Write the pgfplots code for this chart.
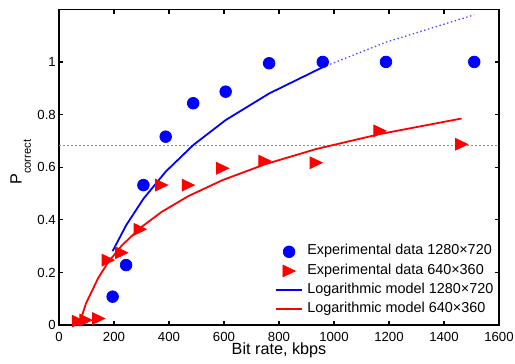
\documentclass[border=0pt]{standalone}
\usepackage{fontspec}
\setmainfont{Liberation Sans}
\usepackage{pgfplots}
\pgfplotsset{compat=1.18}
\pgfdeclareplotmark{rtri}{%
  \pgfpathmoveto{\pgfqpoint{1.05\pgfplotmarksize}{0pt}}%
  \pgfpathlineto{\pgfqpoint{-1.05\pgfplotmarksize}{1\pgfplotmarksize}}%
  \pgfpathlineto{\pgfqpoint{-1.05\pgfplotmarksize}{-1\pgfplotmarksize}}%
  \pgfpathclose\pgfusepathqfillstroke}
\definecolor{thr}{rgb}{1,0.35,0.35}
\begin{document}
\begin{tikzpicture}
\begin{axis}[
  name=ax,
  width=220pt, height=157.9pt, scale only axis,
  xmin=0, xmax=1600, ymin=0, ymax=1.2,
  xtick={0,200,400,600,800,1000,1200,1400,1600},
  ytick={0,0.2,0.4,0.6,0.8,1},
  tick align=inside, xtick pos=both, ytick pos=both,
  xticklabel pos=bottom, yticklabel pos=left,
  major tick length=2.2pt,
  axis line style={line width=0.7pt},
  tick style={line width=0.6pt, black},
  /pgf/number format/assume math mode=true,
  /pgf/number format/1000 sep={},
  ticklabel style={font=\fontsize{6.6}{7.5}\selectfont},
  xticklabel style={inner sep=0pt, anchor=north, yshift=-3.3pt},
  yticklabel style={inner sep=0pt, anchor=east, xshift=-1.4pt},
  xlabel={Bit rate, kbps},
  xlabel style={font=\fontsize{8.1}{9}\selectfont, at={(axis description cs:0.5,0)}, anchor=base, yshift=-14.65pt, inner sep=0pt},
  ylabel={{\fontsize{8.1}{9}\selectfont P}\raisebox{-4.6pt}{\fontsize{5.6}{6.5}\selectfont correct}},
  ylabel style={at={([xshift=-18.65pt]axis description cs:0,0.516)}, anchor=base, inner sep=0pt},
  clip=true,
  legend style={draw=none, fill=none, at={(axis cs:785,0.315)}, anchor=north west,
    inner sep=0pt, outer sep=0pt, row sep=0pt, column sep=2pt,
    font=\fontsize{7.2}{8.6}\selectfont,
    nodes={inner sep=0pt, text height=6.4pt, text depth=3.2pt}},
  legend cell align=left,
  legend image code/.code={\draw[mark repeat=2,mark phase=2,#1] plot coordinates {(0pt,0pt)(6.65pt,0pt)(13.3pt,0pt)};},
]
% threshold line
\addplot[forget plot, thr, line width=0.6pt, dash pattern=on 1.2pt off 0.8pt] coordinates {(0,0.682) (1600,0.682)};
% extrapolated blue model
\addplot[forget plot, blue!75, line width=0.6pt, dash pattern=on 0.7pt off 1.3pt] coordinates {(959,0.980) (1189,1.075) (1510,1.179)};
% experimental data
\addplot[only marks, mark=*, mark size=2.9pt, blue, mark options={fill=blue, draw=blue}] coordinates {
 (195,0.108) (244,0.228) (307,0.532) (388,0.716) (488,0.843) (606,0.887)
 (764,0.995) (959,1.0) (1189,1.0) (1510,1.0)};
\addlegendentry{Experimental data 1280×720}
\addplot[only marks, mark=rtri, mark size=2.9pt, red, mark options={fill=red, draw=red}] coordinates {
 (70,0.015) (98,0.019) (144,0.025) (179,0.247) (228,0.275) (295,0.364)
 (373,0.532) (470,0.532) (595,0.596) (749,0.623) (935,0.617) (1167,0.738) (1464,0.687)};
\addlegendentry{Experimental data 640×360}
% models
\addplot[blue, line width=0.9pt, no marks] coordinates {
 (195,0.281) (244,0.379) (307,0.480) (388,0.583) (488,0.684) (606,0.779) (764,0.880) (959,0.980)};
\addlegendentry{Logarithmic model 1280×720}
\addplot[red, line width=0.9pt, no marks] coordinates {
 (67,-0.017) (98,0.082) (143,0.180) (179,0.239) (228,0.302) (295,0.369) (373,0.430)
 (470,0.490) (595,0.551) (749,0.611) (935,0.669) (1167,0.726) (1464,0.785)};
\addlegendentry{Logarithmic model 640×360}
\end{axis}
\pgfresetboundingbox
\path[use as bounding box] ([xshift=-29.5pt,yshift=-19pt]ax.south west) rectangle ([xshift=8pt,yshift=4.65pt]ax.north east);
\end{tikzpicture}
\end{document}
